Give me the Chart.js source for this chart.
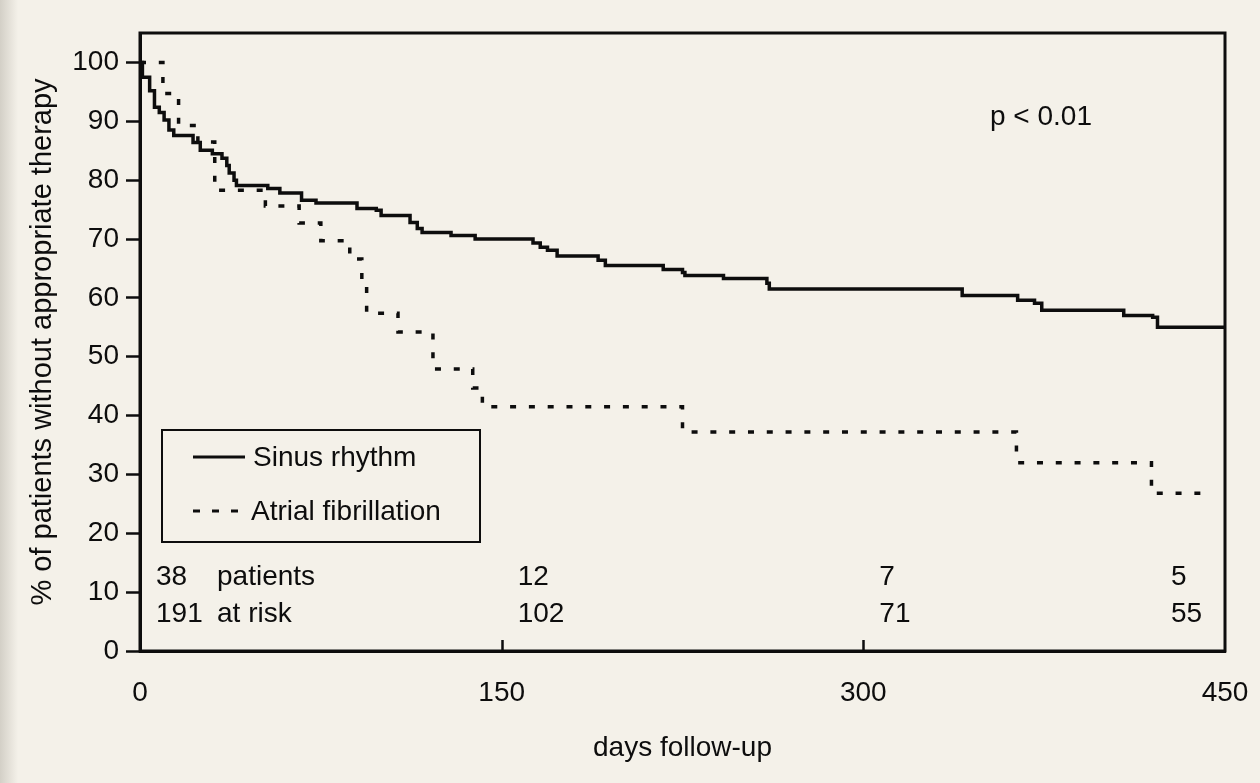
<!DOCTYPE html>
<html>
<head>
<meta charset="utf-8">
<script src="https://cdn.jsdelivr.net/npm/chart.js@4.4.1/dist/chart.umd.min.js"></script>
<style>
  html, body { margin: 0; padding: 0; background: #f4f1e9; }
  #wrap { width: 1260px; height: 783px; }
</style>
</head>
<body>
<div id="wrap"><canvas id="c" width="1260" height="783"></canvas></div>
<script>
// ---- data ----
const srDays = [0, 1, 4, 6, 8, 10, 12, 14, 22, 25, 30, 34, 36, 37, 39, 40, 53, 58, 67, 73,
                90, 98, 100, 112, 115, 117, 129, 139, 163, 166, 169, 173, 190, 193, 217, 225,
                226, 242, 260, 261, 341, 364, 371, 374, 408, 420, 422, 450];
const srPct  = [100, 97.5, 95.2, 92.4, 91.5, 90.2, 88.5, 87.6, 86.4, 85.1, 84.5, 83.7, 82.5, 81.2, 80.0, 79.1, 78.6, 77.8, 76.6, 76.1,
                75.2, 74.9, 74.0, 72.8, 71.8, 71.1, 70.6, 70.0, 69.3, 68.6, 68.1, 67.1, 66.4, 65.5, 64.8, 64.3,
                63.8, 63.3, 62.5, 61.5, 60.4, 59.6, 59.1, 57.9, 57.0, 56.7, 55.0, 55.0];

const afDays = [0, 9.5, 16, 24, 31, 52, 66, 75, 87, 92, 94, 107, 121.5, 138, 142, 225, 363.5, 419.5, 444];
const afPct  = [100, 94.7, 89.3, 86.5, 78.3, 75.6, 72.7, 69.7, 66.6, 63.5, 57.4, 54.2, 47.9, 44.7, 41.5, 37.2, 32.0, 26.8, 26.8];

const seriesNames = ['Sinus rhythm', 'Atrial fibrillation'];
const xTicks = [0, 150, 300, 450];
const yTicks = [0, 10, 20, 30, 40, 50, 60, 70, 80, 90, 100];
const riskDays = [0, 150, 300, 450];
const afAtRisk = [38, 12, 7, 5];
const srAtRisk = [191, 102, 71, 55];
const riskLabels = ['patients', 'at risk'];
const pText = 'p < 0.01';
const xTitle = 'days follow-up';
const yTitle = '% of patients without appropriate therapy';

// ---- styling ----
const INK = '#0d0d0d';
const BG = '#f4f1e9';
const FONT = "'Liberation Sans', Arial, Helvetica, sans-serif";
const FS = 28;

const toPts = (xs, ys) => xs.map((x, i) => ({ x: x, y: ys[i] }));

const bgPlugin = {
  id: 'bg',
  beforeDraw(chart) {
    const ctx = chart.ctx;
    ctx.save();
    ctx.fillStyle = BG;
    ctx.fillRect(0, 0, chart.width, chart.height);
    const g = ctx.createLinearGradient(0, 0, 18, 0);
    g.addColorStop(0, 'rgba(150,145,135,0.35)');
    g.addColorStop(1, 'rgba(150,145,135,0)');
    ctx.fillStyle = g;
    ctx.fillRect(0, 0, 18, chart.height);
    ctx.restore();
  }
};

const framePlugin = {
  id: 'frame',
  afterDraw(chart) {
    const { ctx, chartArea: a, scales } = chart;
    ctx.save();
    ctx.strokeStyle = INK;
    ctx.lineWidth = 3;
    ctx.strokeRect(a.left, a.top, a.right - a.left, a.bottom - a.top);
    // inward x ticks
    xTicks.forEach((v, i) => {
      if (i === 0 || i === xTicks.length - 1) return;
      const px = Math.round(scales.x.getPixelForValue(v)) + 0.5;
      ctx.beginPath();
      ctx.moveTo(px, a.bottom);
      ctx.lineTo(px, a.bottom - 11);
      ctx.lineWidth = 2.5;
      ctx.stroke();
    });

    // p-value
    ctx.fillStyle = INK;
    ctx.font = FS + 'px ' + FONT;
    ctx.textBaseline = 'middle';
    ctx.textAlign = 'left';
    ctx.fillText(pText, 990, 117);

    // numbers at risk
    riskDays.forEach((d, i) => {
      let px = scales.x.getPixelForValue(d);
      px = (i === riskDays.length - 1) ? px - 54 : px + 16;
      ctx.fillText(String(afAtRisk[i]), px, 577);
      ctx.fillText(String(srAtRisk[i]), px, 614);
    });
    ctx.fillText(riskLabels[0], 217, 577);
    ctx.fillText(riskLabels[1], 217, 614);

    // legend box
    ctx.lineWidth = 2;
    ctx.fillStyle = BG;
    ctx.fillRect(162, 430, 318, 112);
    ctx.strokeRect(162, 430, 318, 112);
    ctx.lineWidth = 3;
    ctx.beginPath();
    ctx.moveTo(193, 457); ctx.lineTo(245, 457);
    ctx.stroke();
    ctx.setLineDash([7, 12]);
    ctx.beginPath();
    ctx.moveTo(193, 511); ctx.lineTo(238, 511);
    ctx.stroke();
    ctx.setLineDash([]);
    ctx.fillStyle = INK;
    ctx.fillText(seriesNames[0], 253, 458);
    ctx.fillText(seriesNames[1], 251, 512);
    ctx.restore();
  }
};

new Chart(document.getElementById('c'), {
  type: 'line',
  data: {
    datasets: [
      {
        label: seriesNames[0],
        data: toPts(srDays, srPct),
        stepped: true,
        borderColor: INK,
        borderWidth: 3.5,
        pointRadius: 0,
        fill: false
      },
      {
        label: seriesNames[1],
        data: toPts(afDays, afPct),
        stepped: true,
        borderColor: INK,
        borderWidth: 3.5,
        borderDash: [6, 12.8],
        pointRadius: 0,
        fill: false
      }
    ]
  },
  options: {
    responsive: false,
    animation: false,
    events: [],
    layout: { padding: { top: 33, right: 35, left: 0, bottom: 0 } },
    plugins: { legend: { display: false }, tooltip: { enabled: false } },
    scales: {
      x: {
        type: 'linear',
        min: 0,
        max: 450,
        afterBuildTicks: s => { s.ticks = xTicks.map(v => ({ value: v })); },
        afterFit: s => { s.height = 132; s.paddingLeft = 0; s.paddingRight = 0; },
        grid: { display: false, drawTicks: false },
        border: { display: true, color: INK, width: 3 },
        ticks: { color: INK, font: { family: FONT, size: FS }, padding: 25, maxRotation: 0 },
        title: { display: true, text: xTitle, color: INK, font: { family: FONT, size: FS }, padding: { top: 0, bottom: 18 } }
      },
      y: {
        type: 'linear',
        min: 0,
        max: 105,
        afterBuildTicks: s => { s.ticks = yTicks.map(v => ({ value: v })); },
        afterFit: s => { s.width = 140; s.paddingTop = 0; s.paddingBottom = 0; },
        grid: { drawOnChartArea: false, drawTicks: true, tickLength: 14, tickWidth: 2.5, tickColor: INK, color: INK },
        border: { display: true, color: INK, width: 3 },
        ticks: { color: INK, font: { family: FONT, size: FS }, padding: 7 },
        title: { display: true, text: yTitle, color: INK, font: { family: FONT, size: 29 }, padding: { top: 26, bottom: 0 } }
      }
    }
  },
  plugins: [bgPlugin, framePlugin]
});
</script>
</body>
</html>
